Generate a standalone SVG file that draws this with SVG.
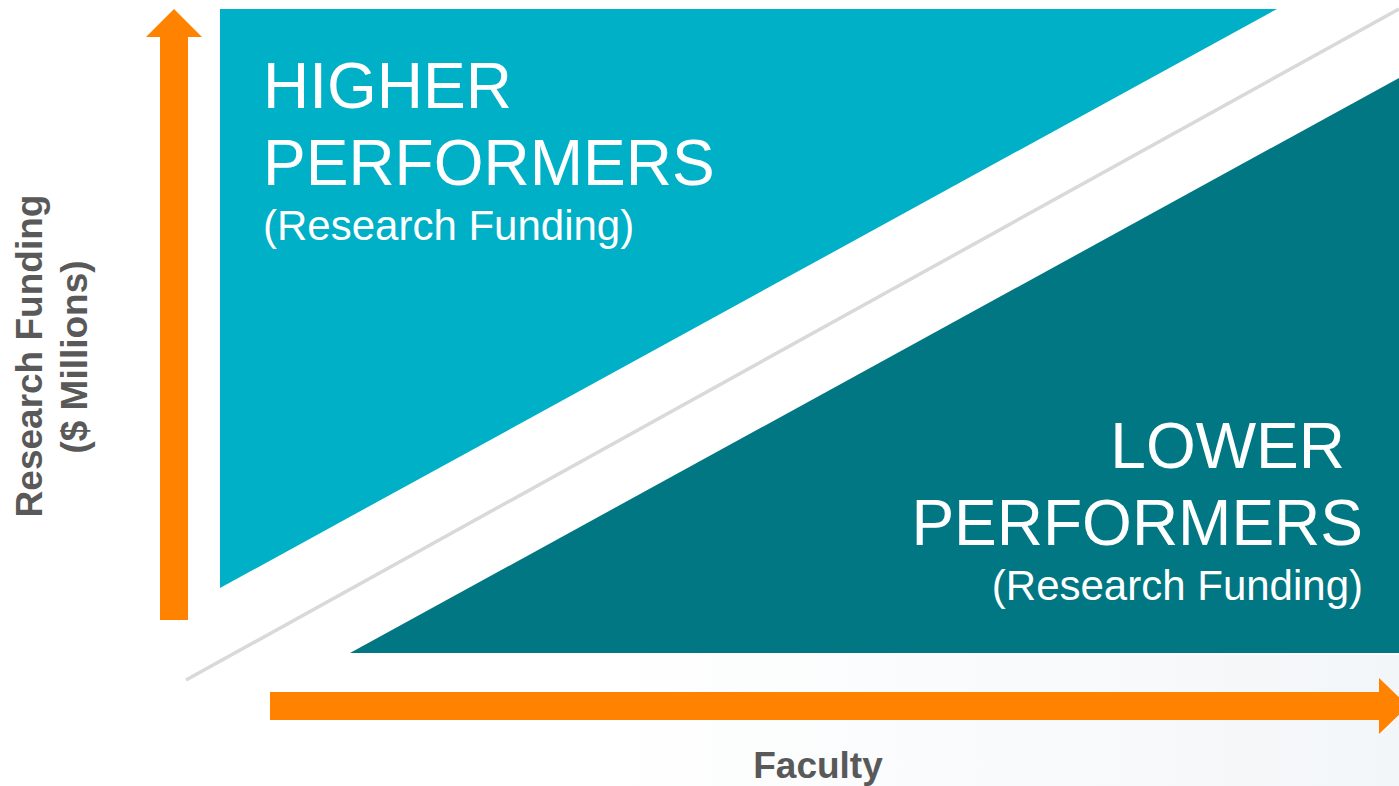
<svg xmlns="http://www.w3.org/2000/svg" width="1399" height="786" viewBox="0 0 1399 786">
  <defs>
    <style>
      .big { font-family: "Liberation Sans", Arial, sans-serif; font-size: 64px; fill: #FFFFFF; }
      .sub { font-family: "Liberation Sans", Arial, sans-serif; font-size: 42px; fill: #FFFFFF; }
      .axis { font-family: "Liberation Sans", Arial, sans-serif; font-size: 37px; font-weight: bold; fill: #595959; }
      .arrow { fill: #FF8200; }
    </style>
    <linearGradient id="bg" x1="0" y1="0" x2="1" y2="0">
      <stop offset="0" stop-color="#FFFFFF"/>
      <stop offset="1" stop-color="#F3F6F8"/>
    </linearGradient>
  </defs>
  <rect width="1399" height="786" fill="#FFFFFF"/>
  <rect x="580" y="655" width="819" height="131" fill="url(#bg)"/>

  <g id="higher">
    <polygon points="220,9 1277,9 220,588" fill="#00B0C7"/>
    <text class="big" x="263" y="108">HIGHER</text>
    <text class="big" x="263" y="185">PERFORMERS</text>
    <text class="sub" x="263" y="240">(Research Funding)</text>
  </g>

  <g id="lower">
    <polygon points="350,653 1399,653 1399,78" fill="#007782"/>
    <text class="big" x="1345" y="468" text-anchor="end">LOWER</text>
    <text class="big" x="1363" y="545" text-anchor="end">PERFORMERS</text>
    <text class="sub" x="1363" y="600" text-anchor="end">(Research Funding)</text>
  </g>

  <g id="connectors">
    <line x1="186" y1="680" x2="1399" y2="9" stroke="#D9D9D9" stroke-width="3.5"/>
    <polygon class="arrow" points="160,620 160,37 146,37 174,9 202,37 188,37 188,620"/>
    <polygon class="arrow" points="270,692 1379,692 1379,678 1408,706 1379,734 1379,720 270,720"/>
  </g>

  <g id="y-axis-label">
    <text class="axis" transform="translate(42,356) rotate(-90)" text-anchor="middle">Research Funding</text>
    <text class="axis" transform="translate(87,357) rotate(-90)" text-anchor="middle">($ Millions)</text>
  </g>

  <g id="x-axis-label">
    <text class="axis" x="818" y="778" text-anchor="middle">Faculty</text>
  </g>
</svg>
